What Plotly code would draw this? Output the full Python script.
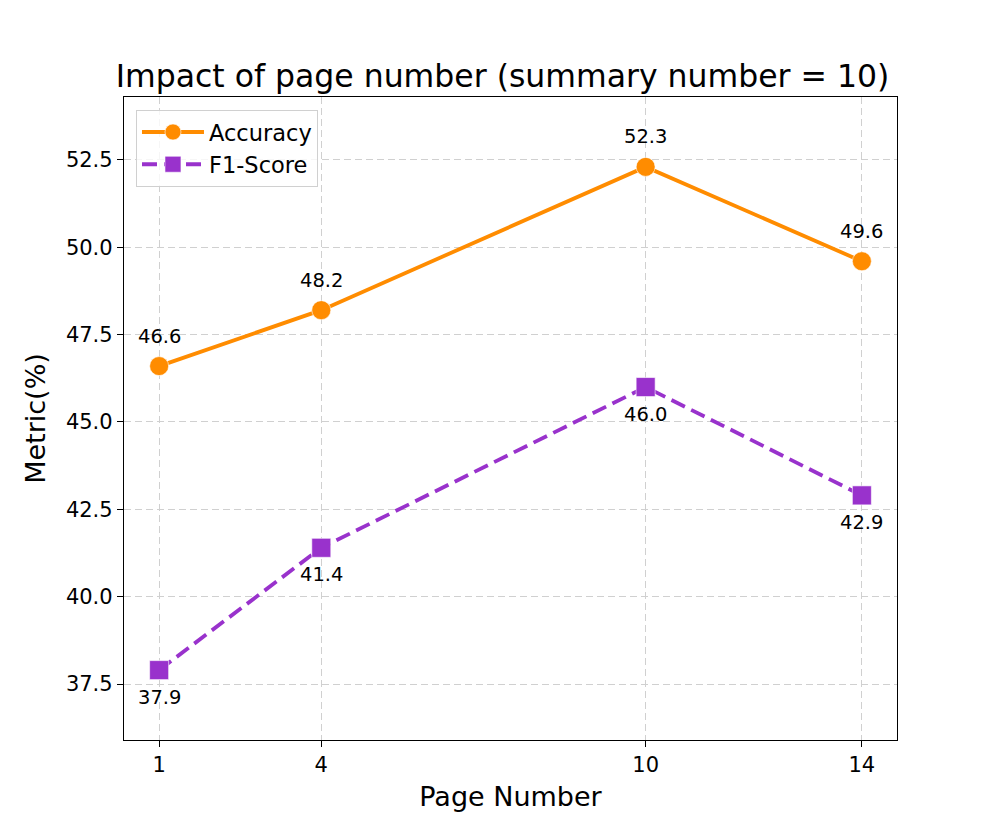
import plotly.graph_objects as go

pages = [1, 4, 10, 14]
accuracy = [46.6, 48.2, 52.3, 49.6]
f1_score = [37.9, 41.4, 46.0, 42.9]
x_ticks = [1, 4, 10, 14]
y_ticks = [37.5, 40.0, 42.5, 45.0, 47.5, 50.0, 52.5]

ORANGE = "#FF8C00"
PURPLE = "#9932CC"
FONT = "DejaVu Sans"

W, H = 989, 822  # page body has an 8px margin

fig = go.Figure()
fig.add_trace(go.Scatter(
    x=pages, y=accuracy, mode="lines+markers", name="Accuracy",
    line=dict(color=ORANGE, width=3.8),
    marker=dict(symbol="circle", size=19, color=ORANGE, line=dict(color="white", width=0.6)),
))
fig.add_trace(go.Scatter(
    x=pages, y=f1_score, mode="lines+markers", name="F1-Score",
    line=dict(color=PURPLE, width=3.8, dash="15px,7px"),
    marker=dict(symbol="square", size=19, color=PURPLE, line=dict(color="white", width=0.6)),
))

annotations = []
for xv, yv in zip(pages, accuracy):
    annotations.append(dict(x=xv, y=yv, text=f"{yv:.1f}", showarrow=False,
                            yshift=30, font=dict(family=FONT, size=19.5, color="black")))
for xv, yv in zip(pages, f1_score):
    annotations.append(dict(x=xv, y=yv, text=f"{yv:.1f}", showarrow=False,
                            yshift=-27, font=dict(family=FONT, size=19.5, color="black")))

fig.update_layout(
    width=W, height=H,
    margin=dict(l=116, r=100, t=89, b=90),
    paper_bgcolor="white", plot_bgcolor="white",
    font=dict(family=FONT, size=20, color="black"),
    title=dict(text="Impact of page number (summary number = 10)", x=0.5, xanchor="center",
               y=1 - 68 / H, yanchor="middle", font=dict(family=FONT, size=31.5, color="black")),
    annotations=annotations,
    showlegend=True,
    legend=dict(x=0.0155, y=0.98, xanchor="left", yanchor="top", itemwidth=62,
                tracegroupgap=4,
                bgcolor="rgba(255,255,255,0.8)", bordercolor="#d0d0d0", borderwidth=1,
                font=dict(family=FONT, size=22.5, color="black")),
)
fig.update_xaxes(
    range=[0.35, 14.65], tickmode="array", tickvals=x_ticks, ticktext=[str(t) for t in x_ticks],
    showline=True, linecolor="black", linewidth=1.3, mirror=True,
    ticks="outside", ticklen=6, tickwidth=1.3, tickcolor="black",
    showgrid=True, gridcolor="#d0d0d0", griddash="7px,4px", gridwidth=1.2, zeroline=False,
    title=dict(text="Page Number", font=dict(family=FONT, size=27), standoff=10),
    tickfont=dict(family=FONT, size=21),
)
fig.update_yaxes(
    range=[35.9, 54.3], tickmode="array", tickvals=y_ticks, ticktext=[f"{t:.1f}" for t in y_ticks],
    showline=True, linecolor="black", linewidth=1.3, mirror=True,
    ticks="outside", ticklen=6, tickwidth=1.3, tickcolor="black",
    showgrid=True, gridcolor="#d0d0d0", griddash="7px,4px", gridwidth=1.2, zeroline=False,
    title=dict(text="Metric(%)", font=dict(family=FONT, size=27), standoff=12),
    tickfont=dict(family=FONT, size=21),
)

fig.write_html("out.html")
